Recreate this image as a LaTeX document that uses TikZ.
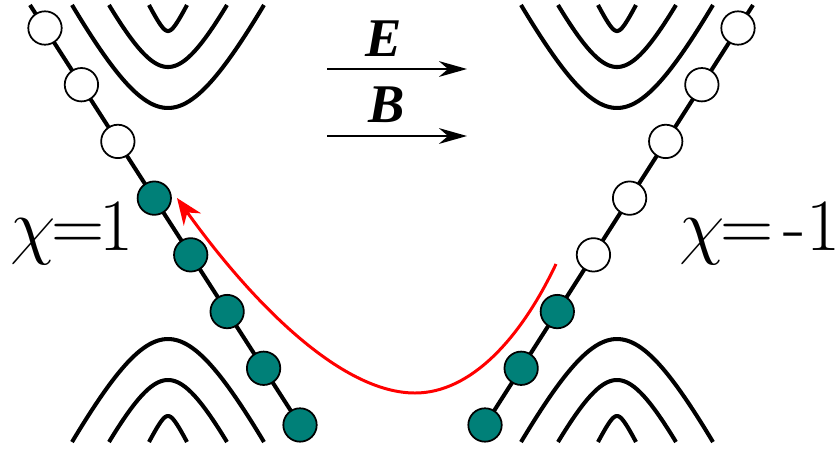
\documentclass[tikz,border=0pt]{standalone}
\usepackage{fix-cm}
\usepackage{fontspec}
\newfontfamily\timesfont{Liberation Serif}
\usetikzlibrary{arrows.meta}
\definecolor{statefill}{RGB}{0,128,120}
\definecolor{pathred}{RGB}{255,0,0}

\begin{document}
\begin{tikzpicture}[x=2mm, y=-2mm,
    band/.style={line width=2.3pt},
    cone/.style={line width=2.3pt},
    state/.style={circle, draw=black, line width=1pt, fill=#1,
                  minimum size=19pt, inner sep=0pt},
    state/.default=white,
    field/.style={-{Stealth[length=16pt, width=9pt]}, line width=0.9pt},
    fieldlabel/.style={font=\timesfont\fontsize{31}{31}\selectfont\bfseries\itshape, inner sep=0pt},
    chilabel/.style={font=\fontsize{42}{42}\selectfont, inner sep=0pt}
]
\useasboundingbox (0,0) rectangle (84,45);

% bands above and below each node
\foreach \cx in {16.8,61.7}
  \foreach \w/\m/\yb in {9.6/12.74/10.8, 5.9/8.13/6.7, 1.9/1.48/3.1} {
    \draw[band] plot[domain=-\w:\w, samples=60]
      ({\cx+\x},{\yb+\m-sqrt(\m*\m+4*(\x)*(\x))});
    \draw[band] plot[domain=-\w:\w, samples=60]
      ({\cx+\x},{44.7-\yb-\m+sqrt(\m*\m+4*(\x)*(\x))});
  }

% Weyl cones
\coordinate (ltop) at (3.0,0.5);
\coordinate (lbot) at (30,42.5);
\coordinate (rtop) at (75.3,0.5);
\coordinate (rbot) at (48.5,42.5);
\draw[cone] (ltop) -- (lbot);
\draw[cone] (rtop) -- (rbot);

% states
\foreach \i in {0,1,2}
  \node[state] (L\i) at ({4.5+3.643*\i},{2.8+5.671*\i}) {};
\foreach \i in {3,...,7}
  \node[state=statefill] (L\i) at ({4.5+3.643*\i},{2.8+5.671*\i}) {};
\foreach \i in {0,...,4}
  \node[state] (R\i) at ({73.8-3.614*\i},{2.8+5.671*\i}) {};
\foreach \i in {5,6,7}
  \node[state=statefill] (R\i) at ({73.8-3.614*\i},{2.8+5.671*\i}) {};

% pumping
\coordinate (jump) at (55.6,26.4);
\coordinate (land) at (17.7,19.8);
\draw[pathred, line width=1.7pt, -{Stealth[length=15pt, width=12pt]}]
  (jump) .. controls (52,34.0) and (47,39.3) .. (41.5,39.3)
         .. controls (34,39.3) and (25,30) .. (land);

% fields
\coordinate (e0) at (32.7,6.9);
\coordinate (e1) at (46.7,6.9);
\coordinate (b0) at (32.7,13.6);
\coordinate (b1) at (46.7,13.6);
\draw[field] (e0) -- (e1);
\draw[field] (b0) -- (b1);
\node[fieldlabel] (elab) at (38.4,3.85) {E};
\node[fieldlabel] (blab) at (38.7,10.5) {B};

\node[chilabel, anchor=base west] (chil) at (1.0,25.0)
  {$\chi$\kern-0.06em=\kern-0.06em1};
\node[chilabel, anchor=base west] (chir) at (67.9,25.0)
  {$\chi$\kern-0.06em= \kern-0.16em-1};
\end{tikzpicture}
\end{document}
